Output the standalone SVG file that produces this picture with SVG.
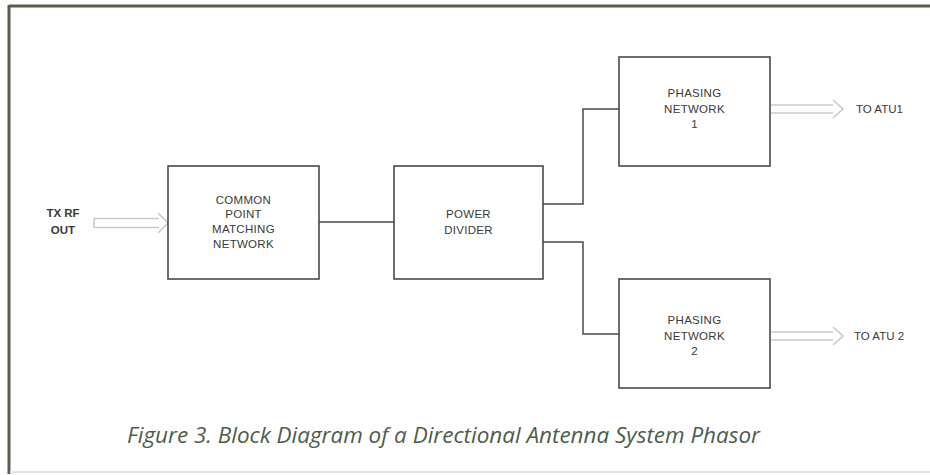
<svg xmlns="http://www.w3.org/2000/svg" width="930" height="475" viewBox="0 0 930 475">
<style>
.box{fill:#fff;stroke:#4a4a44;stroke-width:1.6}
.wire{fill:none;stroke:#4a4a44;stroke-width:1.5}
.arr{fill:none;stroke:#c9cbc6;stroke-width:1.6}
.lbl{font-family:"Liberation Sans",Arial,sans-serif;font-size:11.5px;fill:#3a3a36;text-anchor:middle;letter-spacing:0.3px}
.side{font-family:"Liberation Sans",Arial,sans-serif;font-size:11.5px;fill:#3a3a36;font-weight:bold}
.cap{font-family:"Open Sans","Noto Sans",sans-serif;font-size:21.5px;font-style:italic;fill:#4e5c4c}
</style>
<rect width="930" height="475" fill="#fff"/>
<g id="frame">
<line x1="9" y1="6" x2="930" y2="6" stroke="#55604f" stroke-width="3"/>
<line x1="9" y1="5" x2="9" y2="474" stroke="#55604f" stroke-width="3"/>
<line x1="10" y1="472" x2="930" y2="472" stroke="#e2e4e0" stroke-width="2"/>
</g>
<g id="connectors">
<line class="wire" x1="319" y1="222" x2="394" y2="222"/>
<polyline class="wire" points="543,204 583,204 583,109 619,109"/>
<polyline class="wire" points="543,242 583,242 583,334 619,334"/>
<path class="arr" d="M94,218.5 H159 M94,227.5 H159 M94,218.5 V227.5 M158,213 L168,223 L158,233"/>
<path class="arr" d="M771,105 H833 M771,113 H833 M833,100 L843,109 L833,118"/>
<path class="arr" d="M771,332 H833 M771,340 H833 M833,327 L843,336 L833,345"/>
</g>
<g id="txrf">
<text class="side" x="63" y="217" text-anchor="middle">TX RF</text>
<text class="side" x="63" y="234" text-anchor="middle">OUT</text>
</g>
<g id="common-point">
<rect class="box" x="168" y="166" width="151" height="113"/>
<text class="lbl" x="243.5" y="204">COMMON</text>
<text class="lbl" x="243.5" y="218">POINT</text>
<text class="lbl" x="243.5" y="233">MATCHING</text>
<text class="lbl" x="243.5" y="248">NETWORK</text>
</g>
<g id="power-divider">
<rect class="box" x="394" y="166" width="149" height="113"/>
<text class="lbl" x="468.5" y="218">POWER</text>
<text class="lbl" x="468.5" y="234">DIVIDER</text>
</g>
<g id="phasing-1">
<rect class="box" x="619" y="57" width="151" height="109"/>
<text class="lbl" x="694.5" y="97">PHASING</text>
<text class="lbl" x="694.5" y="113">NETWORK</text>
<text class="lbl" x="694.5" y="128">1</text>
</g>
<g id="phasing-2">
<rect class="box" x="619" y="279" width="151" height="109"/>
<text class="lbl" x="694.5" y="324">PHASING</text>
<text class="lbl" x="694.5" y="340">NETWORK</text>
<text class="lbl" x="694.5" y="355">2</text>
</g>
<g id="atu1"><text class="side" x="856" y="113" style="font-weight:normal">TO ATU1</text></g>
<g id="atu2"><text class="side" x="854" y="340" style="font-weight:normal">TO ATU 2</text></g>
<g id="caption"><text class="cap" x="127" y="443" textLength="633" lengthAdjust="spacingAndGlyphs">Figure 3. Block Diagram of a Directional Antenna System Phasor</text></g>
</svg>
